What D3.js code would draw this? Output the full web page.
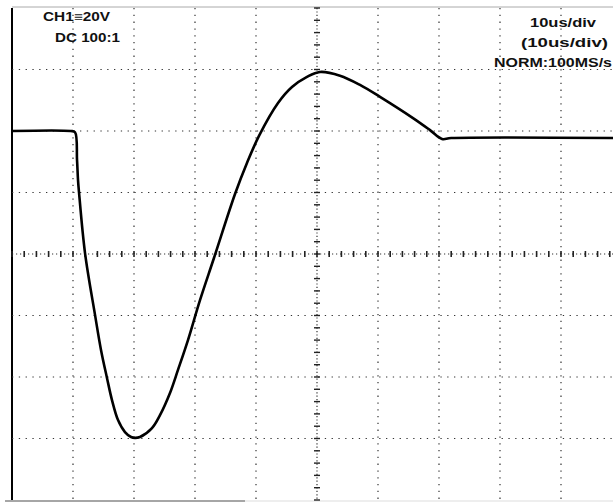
<!DOCTYPE html>
<html><head><meta charset="utf-8">
<script src="https://cdn.jsdelivr.net/npm/d3@7"></script>
<style>html,body{margin:0;padding:0;background:#fff;overflow:hidden}svg{display:block}</style>
</head><body>
<svg id="c" width="613" height="503"></svg>
<script>
// Waveform (time in microseconds, volts)
const timeUs = [0, 9.6, 10.33, 10.66, 10.82, 10.98, 11.97, 13.61, 14.59, 15.57, 16.39, 17.38, 18.52, 19.51, 20.16, 20.98, 22.95, 24.26, 25.90, 27.21, 28.85, 30.82, 33.11, 36.56, 38.52, 40.49, 43.61, 45.90, 48.36, 50.49, 53.77, 57.05, 60.33, 65.74, 68.52, 70.49, 72.0, 100];
const voltsV = [40, 40, 39.6, 30.6, 24.1, 20.2, 0.3, -19.8, -31.2, -40.3, -47.5, -54.0, -57.9, -59.5, -59.8, -59.5, -56.6, -52.4, -45.2, -37.7, -28.0, -15.0, -1.3, 19.5, 29.6, 38.4, 49.1, 54.3, 57.6, 59.2, 58.0, 55.0, 51.1, 44.2, 40.3, 37.4, 37.7, 37.7];
// Screen setup
const timeDomain = [0, 100];      // 10 us/div x 10 div
const voltDomain = [-80, 80];     // 20 V/div x 8 div
const timeTicks = [10, 20, 30, 40, 50, 60, 70, 80, 90];
const voltTicks = [-60, -40, -20, 0, 20, 40, 60];
const labelsLeft = ["CH1\u226120V", "DC  100:1"];
const labelsRight = ["10us/div", "(10us/div)", "NORM:100MS/s"];

const svg = d3.select("#c");
const x = d3.scaleLinear().domain(timeDomain).range([12, 622]);
const y = d3.scaleLinear().domain(voltDomain).range([500, 8]);

// border
svg.append("line").attr("x1", 12).attr("x2", 613).attr("y1", 7).attr("y2", 7)
  .attr("stroke", "#aaa").attr("stroke-width", 1);
svg.append("line").attr("x1", 5).attr("x2", 245).attr("y1", 501).attr("y2", 501)
  .attr("stroke", "#888").attr("stroke-width", 1.5);
svg.append("line").attr("x1", 245).attr("x2", 613).attr("y1", 501).attr("y2", 501)
  .attr("stroke", "#ddd").attr("stroke-width", 1);
svg.append("line").attr("x1", x(0)).attr("x2", x(0)).attr("y1", y(80)).attr("y2", y(-80))
  .attr("stroke", "#000").attr("stroke-width", 2);

// grid
const grid = svg.append("g").attr("stroke", "#333").attr("stroke-width", 1.2);
grid.selectAll(".vg").data(timeTicks.filter(t => t !== 50)).join("line")
  .attr("x1", d => x(d)).attr("x2", d => x(d)).attr("y1", y(80)).attr("y2", y(-80))
  .attr("stroke-dasharray", "1.3,5.5");
grid.selectAll(".hg").data(voltTicks.filter(v => v !== 0)).join("line")
  .attr("x1", x(0)).attr("x2", 613).attr("y1", d => y(d)).attr("y2", d => y(d))
  .attr("stroke-dasharray", "1.3,5.5");

// center axes
const cx = x(50), cy = y(0);
grid.append("line").attr("x1", cx).attr("x2", cx).attr("y1", y(80)).attr("y2", y(-80))
  .attr("stroke-dasharray", "1.2,2.2");
grid.append("line").attr("x1", x(0)).attr("x2", 613).attr("y1", cy).attr("y2", cy)
  .attr("stroke-dasharray", "1.2,2.8");
const minorT = d3.range(0, 100.01, 2);
const minorV = d3.range(-80, 80.01, 4);
grid.selectAll(".tt").data(minorT).join("line")
  .attr("x1", d => x(d)).attr("x2", d => x(d)).attr("y1", cy - 3).attr("y2", cy + 3)
  .attr("stroke", "#222").attr("stroke-width", 1.6);
grid.selectAll(".tv").data(minorV).join("line")
  .attr("x1", cx - 3).attr("x2", cx + 3).attr("y1", d => y(d)).attr("y2", d => y(d))
  .attr("stroke", "#222").attr("stroke-width", 1.4);

// waveform
const pts = timeUs.map((t, i) => [t, voltsV[i]]);
svg.append("path").datum(pts)
  .attr("d", d3.line().x(d => x(d[0])).y(d => y(d[1])).curve(d3.curveCatmullRom.alpha(0.5)))
  .attr("fill", "none").attr("stroke", "#000").attr("stroke-width", 2.6)
  .attr("stroke-linejoin", "round");

// labels
const font = "'Liberation Sans', Arial, sans-serif";
const left = [[43, 21, 67, 12], [55, 42, 65, 12]];
labelsLeft.forEach((s, i) => {
  svg.append("text").attr("x", left[i][0]).attr("y", left[i][1]).text(s)
    .attr("font-family", font).attr("font-weight", "bold").attr("font-size", left[i][3])
    .attr("fill", "#111").attr("textLength", left[i][2]).attr("lengthAdjust", "spacingAndGlyphs");
});
const right = [[530, 27, 66, 13.5], [521, 47, 87, 13.5], [494, 67, 118, 13.5]];
labelsRight.forEach((s, i) => {
  svg.append("text").attr("x", right[i][0]).attr("y", right[i][1]).text(s)
    .attr("font-family", font).attr("font-weight", "bold").attr("font-size", right[i][3])
    .attr("fill", "#111").attr("textLength", right[i][2]).attr("lengthAdjust", "spacingAndGlyphs");
});
</script>
</body></html>
